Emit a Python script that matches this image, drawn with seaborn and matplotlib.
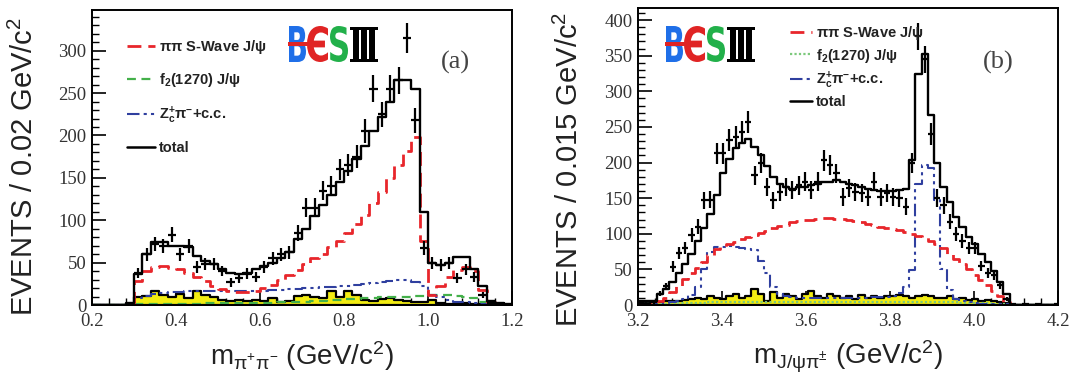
import numpy as np
import pandas as pd
import matplotlib
matplotlib.use("Agg")
import matplotlib.pyplot as plt
import seaborn as sns
from matplotlib.lines import Line2D
from matplotlib.ticker import MultipleLocator, FuncFormatter
from matplotlib.textpath import TextPath
from matplotlib.patches import PathPatch, Rectangle
from matplotlib.font_manager import FontProperties
import matplotlib.transforms as mtrans

# ---------------- data: panel (a)  m(pi+pi-), bins of 0.02 from 0.2 ----------------
a_lo, a_width, a_nbins = 0.20, 0.02, 50
a_data = [0, 0, 0, 0, 0, 38, 60, 72, 70, 83, 60, 70, 45, 48, 48, 40, 27, 32, 37, 33,
          45, 55, 60, 62, 85, 115, 115, 135, 140, 160, 165, 175, 205, 255, 225, 255, 265, 315, 218, 67,
          50, 47, 50, 32, 42, 33, 12, 2, 0, 0]
a_total = [0, 0, 0, 0, 2, 37, 60, 74, 74, 70, 70, 68, 58, 52, 48, 42, 38, 37, 38, 42,
           46, 50, 55, 62, 78, 90, 105, 118, 130, 145, 158, 172, 188, 205, 222, 240, 265, 265, 255, 110,
           50, 47, 50, 57, 57, 42, 22, 5, 2, 1]
a_swave = [0, 0, 0, 0, 1, 28, 40, 45, 46, 44, 42, 38, 33, 28, 23, 19, 16, 15, 15, 17,
           20, 24, 29, 35, 41, 48, 55, 60, 68, 76, 85, 95, 106, 120, 133, 150, 165, 182, 198, 75,
           12, 22, 33, 41, 45, 40, 18, 4, 1, 0]
a_f2 = [0, 0, 0, 0, 0, 1, 1, 1, 1, 1, 1, 1, 1, 2, 2, 2, 2, 2, 2, 2,
        2, 2, 3, 3, 4, 4, 5, 5, 6, 6, 7, 7, 8, 8, 9, 9, 10, 10, 11, 11,
        12, 12, 12, 11, 10, 8, 4, 1, 0, 0]
a_zc = [0, 0, 0, 0, 1, 8, 11, 13, 14, 15, 15, 16, 16, 16, 16, 16, 16, 16, 17, 17,
        17, 18, 18, 19, 19, 20, 20, 21, 21, 22, 23, 24, 25, 26, 27, 28, 29, 29, 27, 22,
        12, 9, 6, 4, 3, 2, 1, 1, 0, 0]
a_bkg = [0, 0, 0, 0, 0, 10, 11, 17, 12, 10, 13, 8, 17, 12, 9, 6, 5, 6, 5, 6,
         5, 8, 4, 5, 11, 12, 10, 8, 17, 10, 16, 12, 6, 5, 7, 8, 6, 5, 4, 3,
         6, 2, 1, 1, 2, 1, 1, 0, 0, 0]

# ---------------- data: panel (b)  m(J/psi pi), bins of 0.015 from 3.2 ----------------
b_lo, b_width, b_nbins = 3.20, 0.015, 67
b_data = [3, 2, 4, 16, 26, 54, 73, 80, 98, 110, 147, 148, 213, 213, 232, 236, 243, 257, 182, 199,
          166, 147, 159, 166, 161, 168, 173, 161, 173, 203, 196, 185, 152, 164, 159, 157, 152, 173, 152, 157,
          152, 150, 138, 199, 377, 345, 240, 150, 140, 117, 100, 90, 80, 80, 55, 45, 42, 28, 8,
          1, 0, 1, 0, 1, 0, 0, 1]
b_total = [5, 5, 5, 15, 22, 32, 45, 58, 72, 90, 108, 128, 155, 185, 205, 220, 228, 233, 222, 210,
           195, 180, 170, 165, 163, 165, 166, 168, 170, 172, 173, 175, 173, 170, 168, 165, 163, 162, 160, 160,
           160, 161, 163, 203, 325, 352, 267, 200, 166, 145, 124, 110, 95, 85, 72, 60, 48, 32, 15,
           0, 0, 0, 0, 0, 0, 0, 0]
b_swave = [1, 1, 2, 5, 10, 18, 27, 37, 45, 52, 60, 70, 78, 82, 85, 88, 92, 95, 98, 101,
           104, 108, 111, 113, 116, 118, 119, 120, 121, 122, 122, 121, 121, 120, 118, 116, 114, 112, 110, 108,
           107, 105, 103, 100, 97, 95, 90, 85, 80, 72, 65, 57, 50, 42, 35, 28, 20, 12, 4,
           0, 0, 0, 0, 0, 0, 0, 0]
b_f2 = [1, 1, 1, 2, 2, 2, 3, 3, 3, 3, 3, 4, 4, 4, 4, 4, 4, 4, 4, 4,
        4, 4, 4, 4, 4, 4, 4, 4, 4, 4, 4, 4, 4, 4, 4, 4, 4, 4, 4, 4,
        4, 4, 4, 4, 4, 4, 4, 4, 4, 4, 4, 3, 3, 3, 3, 3, 2, 2, 1,
        0, 0, 0, 0, 0, 0, 0, 0]
b_zc = [1, 1, 1, 2, 3, 4, 5, 8, 14, 25, 50, 75, 82, 82, 83, 82, 80, 78, 77, 62,
        45, 25, 15, 12, 11, 10, 10, 10, 10, 10, 10, 10, 10, 10, 10, 10, 10, 11, 11, 11,
        12, 17, 25, 49, 170, 196, 192, 147, 50, 21, 8, 5, 4, 3, 2, 2, 1, 1, 1,
        0, 0, 0, 0, 0, 0, 0, 0]
b_bkg = [3, 3, 3, 4, 5, 6, 6, 7, 8, 10, 9, 12, 10, 8, 12, 15, 10, 12, 22, 15,
         5, 18, 10, 15, 12, 8, 15, 20, 12, 10, 15, 12, 10, 12, 8, 14, 10, 12, 10, 13,
         12, 14, 12, 10, 12, 14, 12, 10, 10, 12, 8, 10, 7, 8, 6, 7, 5, 4, 3,
         0, 0, 0, 0, 0, 0, 0, 0]

legend_labels = [r"$\pi\pi$ S-Wave J/$\psi$", r"f$_{2}$(1270) J/$\psi$",
                 r"Z$_{c}^{+}\pi^{-}$+c.c.", "total"]

# ---------------- style ----------------
sns.set_theme(style="ticks")
plt.rcParams["font.family"] = ["Liberation Sans", "DejaVu Sans"]
plt.rcParams["mathtext.fontset"] = "stix"
plt.rcParams["mathtext.default"] = "regular"

RED = "#e8262b"
GREEN = "#44b04a"
GREEN_DOT = "#7cc97c"
BLUE = "#2f3f9f"
YELLOW = "#f2ec12"
ZC_DASH = (0, (6, 2, 1.5, 2, 1.5, 2))

W, H = 1077, 387
fig = plt.figure(figsize=(W / 100, H / 100), dpi=100)
axA = fig.add_axes([92 / W, 1 - 305 / H, 420 / W, 295 / H])
axB = fig.add_axes([638 / W, 1 - 305 / H, 420 / W, 297 / H])


def steps(ax, edges, vals, **kw):
    df = pd.DataFrame({"m": (edges[:-1] + edges[1:]) / 2, "n": np.asarray(vals, float)})
    sns.histplot(data=df, x="m", weights="n", bins=[float(e) for e in edges],
                 element="step", ax=ax, **kw)


def panel(ax, lo, width, nb, data, total, swave, f2, zc, bkg, f2_style, ylim):
    edges = np.round(lo + width * np.arange(nb + 1), 5)
    centers = (edges[:-1] + edges[1:]) / 2
    steps(ax, edges, bkg, fill=True, color=YELLOW, alpha=1, edgecolor="black", linewidth=1.6)
    steps(ax, edges, f2, fill=False, color=GREEN if f2_style == "dash" else GREEN_DOT,
          linewidth=1.6, linestyle=(0, (4, 2.5)) if f2_style == "dash" else (0, (1, 1)))
    steps(ax, edges, zc, fill=False, color=BLUE, linewidth=1.5, linestyle=ZC_DASH)
    steps(ax, edges, swave, fill=False, color=RED, linewidth=2.0, linestyle=(0, (5, 2.5)))
    steps(ax, edges, total, fill=False, color="black", linewidth=1.7)
    d = np.asarray(data, float)
    ax.errorbar(centers, d, yerr=np.sqrt(d), xerr=width / 2, fmt="none",
                ecolor="black", elinewidth=1.6, capsize=0, zorder=5)
    ax.set_xlim(lo, lo + 1.0)
    ax.set_ylim(*ylim)
    ax.xaxis.set_major_locator(MultipleLocator(0.2))
    ax.xaxis.set_minor_locator(MultipleLocator(0.04))
    ax.yaxis.set_major_locator(MultipleLocator(50))
    ax.yaxis.set_minor_locator(MultipleLocator(10))
    ax.xaxis.set_major_formatter(FuncFormatter(lambda v, p: f"{v:.1f}"))
    ax.tick_params(which="both", direction="in", top=False, right=False, colors="black")
    ax.tick_params(which="major", length=10, width=1.2, labelsize=13.5, pad=6)
    ax.tick_params(which="minor", length=5, width=1.0)
    ax.yaxis.set_tick_params(pad=4)
    for lab in ax.get_xticklabels() + ax.get_yticklabels():
        lab.set_fontfamily("Liberation Serif")
        lab.set_color("#333333")
    for s in ax.spines.values():
        s.set_color("black")
        s.set_linewidth(1.4)
    ax.grid(False)


panel(axA, a_lo, a_width, a_nbins, a_data, a_total, a_swave, a_f2, a_zc, a_bkg, "dash", (0, 348))
panel(axB, b_lo, b_width, b_nbins, b_data, b_total, b_swave, b_f2, b_zc, b_bkg, "dot", (0, 417))

axA.set_ylabel(r"EVENTS / 0.02 GeV/c$^{2}$", fontsize=21, color="#222222")
axB.set_ylabel(r"EVENTS / 0.015 GeV/c$^{2}$", fontsize=21, color="#222222")
axA.set_xlabel(r"m$_{\pi^{+}\pi^{-}}$ (GeV/c$^{2}$)", fontsize=20, color="#222222")
axB.set_xlabel(r"m$_{J/\psi\pi^{\pm}}$ (GeV/c$^{2}$)", fontsize=20, color="#222222")
axA.yaxis.set_label_coords(-0.125, 0.47)
axB.yaxis.set_label_coords(-0.128, 0.455)
axA.xaxis.set_label_coords(0.5, -0.115)
axB.xaxis.set_label_coords(0.5, -0.115)


def handles(f2_style):
    return [Line2D([], [], color=RED, lw=2.0, ls=(0, (5, 2.5))),
            Line2D([], [], color=GREEN if f2_style == "dash" else GREEN_DOT, lw=1.6,
                   ls=(0, (4, 2.5)) if f2_style == "dash" else (0, (1, 1))),
            Line2D([], [], color=BLUE, lw=1.5, ls=ZC_DASH),
            Line2D([], [], color="black", lw=1.8)]


legA = axA.legend(handles("dash"), legend_labels, loc="upper left", bbox_to_anchor=(0.083, 0.905),
                  frameon=False, borderpad=0, borderaxespad=0, handlelength=1.9, handletextpad=0.3,
                  labelspacing=1.05, prop={"weight": "bold", "size": 10.5})
legB = axB.legend(handles("dot"), legend_labels, loc="upper left", bbox_to_anchor=(0.362, 0.947),
                  frameon=False, borderpad=0, borderaxespad=0, handlelength=1.5, handletextpad=0.3,
                  labelspacing=0.33, prop={"weight": "bold", "size": 10.5})
for leg in (legA, legB):
    for t in leg.get_texts():
        t.set_color("#222222")

axA.text((455 - 92) / 420, (305 - 62) / 295, "(a)", transform=axA.transAxes, ha="center", va="center",
         fontsize=19, family="Liberation Serif", color="#444444")
axB.text((998 - 638) / 420, (305 - 62) / 297, "(b)", transform=axB.transAxes, ha="center", va="center",
         fontsize=19, family="Liberation Serif", color="#444444")

# ---------------- BESIII logos ----------------
fp_bold = FontProperties(family="DejaVu Sans", weight="bold")
fp_serif = FontProperties(family="DejaVu Serif", weight="bold")


def glyph(ch, x0, x1, ytop, ybot, color, fp=fp_bold):
    tp = TextPath((0, 0), ch, size=100, prop=fp)
    bb = tp.get_extents()
    tr = (mtrans.Affine2D().translate(-bb.x0, -bb.y0)
          .scale((x1 - x0) / bb.width / W, (ybot - ytop) / bb.height / H)
          .translate(x0 / W, 1 - ybot / H))
    fig.add_artist(PathPatch(tr.transform_path(tp), facecolor=color, edgecolor="none",
                             transform=fig.transFigure))


def logo(x0):
    glyph("B", x0, x0 + 17, 26, 62, "#1f6fe8")
    glyph("\u0404", x0 + 18, x0 + 39, 26, 62, "#e02424")
    glyph("S", x0 + 41, x0 + 59, 26, 62, "#22b04a")
    glyph("\u2162", x0 + 61, x0 + 89, 27, 62, "black", fp_serif)
    fig.add_artist(Rectangle(((x0 - 1) / W, 1 - 45.5 / H), 33 / W, 3 / H, facecolor="#e02424",
                             edgecolor="none", transform=fig.transFigure))


logo(289)
logo(666)

fig.savefig("out.png", dpi=100)
